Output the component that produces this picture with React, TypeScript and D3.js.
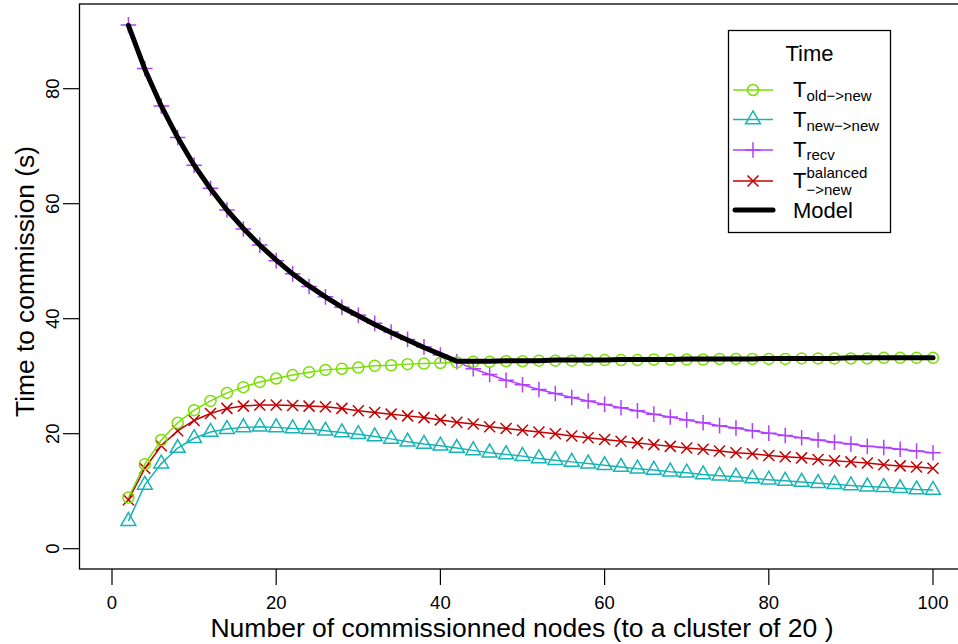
import React, { useRef, useEffect } from 'react';
import * as d3 from 'd3';

// commissioned nodes (x)
const nodes = [
  2, 4, 6, 8, 10, 12, 14, 16, 18, 20, 22, 24, 26, 28, 30, 32, 34, 36, 38, 40,
  42, 44, 46, 48, 50, 52, 54, 56, 58, 60, 62, 64, 66, 68, 70, 72, 74, 76, 78, 80,
  82, 84, 86, 88, 90, 92, 94, 96, 98, 100,
];

const oldToNew = [
  8.9, 14.7, 18.9, 21.9, 24.1, 25.7, 27.1, 28.1, 29.0, 29.6,
  30.2, 30.7, 31.1, 31.3, 31.5, 31.8, 31.9, 32.1, 32.2, 32.3,
  32.4, 32.5, 32.5, 32.6, 32.6, 32.7, 32.7, 32.7, 32.8, 32.8,
  32.8, 32.8, 32.9, 32.9, 32.9, 32.9, 33.0, 33.0, 33.0, 33.0,
  33.0, 33.1, 33.1, 33.1, 33.1, 33.1, 33.2, 33.2, 33.2, 33.2,
];

const newToNew = [
  4.8, 11.1, 14.8, 17.5, 19.2, 20.3, 20.8, 21.1, 21.2, 21.1,
  20.9, 20.8, 20.5, 20.2, 19.9, 19.5, 19.1, 18.6, 18.2, 17.9,
  17.5, 17.1, 16.7, 16.4, 16.1, 15.7, 15.4, 15.1, 14.8, 14.5,
  14.2, 13.9, 13.7, 13.4, 13.2, 12.9, 12.7, 12.5, 12.2, 12.0,
  11.8, 11.6, 11.4, 11.2, 11.0, 10.8, 10.7, 10.5, 10.3, 10.2,
];

const recv = [
  91.1, 83.5, 77.0, 71.5, 66.7, 62.7, 58.9, 55.6, 52.8, 50.1,
  47.8, 45.6, 43.8, 42.0, 40.6, 39.2, 37.7, 36.4, 35.1, 33.7,
  32.5, 31.3, 30.3, 29.3, 28.5, 27.7, 27.0, 26.3, 25.7, 25.1,
  24.5, 24.0, 23.4, 22.9, 22.4, 21.9, 21.4, 21.0, 20.5, 20.1,
  19.7, 19.3, 18.9, 18.5, 18.2, 17.8, 17.6, 17.3, 17.0, 16.7,
];

const balanced = [
  8.5, 14.0, 17.9, 20.5, 22.3, 23.5, 24.4, 24.8, 25.0, 25.0,
  24.9, 24.8, 24.7, 24.4, 24.0, 23.7, 23.4, 23.1, 22.8, 22.4,
  22.0, 21.7, 21.2, 20.9, 20.6, 20.3, 20.0, 19.6, 19.3, 19.0,
  18.7, 18.4, 18.1, 17.8, 17.5, 17.3, 17.0, 16.7, 16.5, 16.2,
  16.0, 15.8, 15.5, 15.3, 15.1, 14.9, 14.6, 14.4, 14.2, 14.0,
];

const model = [
  91.0, 83.4, 77.0, 71.5, 66.7, 62.6, 58.9, 55.7, 52.8, 50.2,
  47.8, 45.7, 43.8, 42.0, 40.5, 39.0, 37.6, 36.3, 35.0, 33.8,
  32.6, 32.6, 32.6, 32.7, 32.7, 32.7, 32.8, 32.8, 32.8, 32.8,
  32.9, 32.9, 32.9, 32.9, 33.0, 33.0, 33.0, 33.0, 33.0, 33.1,
  33.1, 33.1, 33.1, 33.1, 33.2, 33.2, 33.2, 33.2, 33.2, 33.2,
];

const xTicks = [0, 20, 40, 60, 80, 100];
const yTicks = [0, 20, 40, 60, 80];

const FONT = '"Liberation Sans", Arial, Helvetica, sans-serif';
const R = 5.5; // symbol radius

type Shape = 'circle' | 'triangle' | 'plus' | 'cross';

function drawSymbol(g: any, shape: Shape, x: number, y: number, color: string) {
  if (shape === 'circle') {
    g.append('circle').attr('cx', x).attr('cy', y).attr('r', R)
      .attr('fill', 'none').attr('stroke', color).attr('stroke-width', 1.5);
  } else if (shape === 'triangle') {
    const r = 1.555 * R, xc = 1.347 * R, yc = 0.778 * R;
    g.append('path')
      .attr('d', `M${x},${y - r}L${x + xc},${y + yc}L${x - xc},${y + yc}Z`)
      .attr('fill', 'none').attr('stroke', color).attr('stroke-width', 1.5);
  } else if (shape === 'plus') {
    const h = 1.414 * R;
    g.append('path')
      .attr('d', `M${x - h},${y}H${x + h}M${x},${y - h}V${y + h}`)
      .attr('stroke', color).attr('stroke-width', 1.5);
  } else {
    const h = R;
    g.append('path')
      .attr('d', `M${x - h},${y - h}L${x + h},${y + h}M${x - h},${y + h}L${x + h},${y - h}`)
      .attr('stroke', color).attr('stroke-width', 1.5);
  }
}

const App = () => {
  const ref = useRef<SVGSVGElement>(null);

  useEffect(() => {
    const svg = d3.select(ref.current);
    svg.selectAll('*').remove();

    const x = d3.scaleLinear().domain([0, 100]).range([112, 933]);
    const y = d3.scaleLinear().domain([0, 80]).range([548.7, 88.7]);

    // plot box (right edge falls outside the picture)
    svg.append('rect')
      .attr('x', 79.5).attr('y', 4).attr('width', 887).attr('height', 565)
      .attr('fill', 'none').attr('stroke', 'black').attr('stroke-width', 1.3);

    // y axis
    const ya = svg.append('g');
    yTicks.forEach(t => {
      ya.append('line').attr('x1', 63).attr('x2', 79.5)
        .attr('y1', y(t)).attr('y2', y(t)).attr('stroke', 'black').attr('stroke-width', 1.2);
      ya.append('text')
        .attr('transform', `translate(58.5,${y(t)}) rotate(-90)`)
        .attr('text-anchor', 'middle')
        .style('font-family', FONT).style('font-size', '18.5px')
        .text(t);
    });

    // x axis
    const xa = svg.append('g');
    xTicks.forEach(t => {
      xa.append('line').attr('x1', x(t)).attr('x2', x(t))
        .attr('y1', 569).attr('y2', 585).attr('stroke', 'black').attr('stroke-width', 1.2);
      xa.append('text')
        .attr('x', x(t)).attr('y', 608.5)
        .attr('text-anchor', 'middle')
        .style('font-family', FONT).style('font-size', '18.5px')
        .text(t);
    });

    svg.append('text')
      .attr('x', 522).attr('y', 637).attr('text-anchor', 'middle')
      .style('font-family', FONT).style('font-size', '26.5px')
      .text('Number of commissionned nodes (to a cluster of 20 )');

    svg.append('text')
      .attr('transform', `translate(34,281.5) rotate(-90)`)
      .attr('text-anchor', 'middle')
      .style('font-family', FONT).style('font-size', '26.3px')
      .text('Time to commission (s)');

    const line = d3.line<number>()
      .x((d, i) => x(nodes[i]))
      .y(d => y(d));

    const series: { values: number[]; color: string; shape: Shape }[] = [
      { values: recv, color: '#b040ff', shape: 'plus' },
      { values: newToNew, color: '#17b4b4', shape: 'triangle' },
      { values: balanced, color: '#c40000', shape: 'cross' },
      { values: oldToNew, color: '#78e000', shape: 'circle' },
    ];

    series.forEach(s => {
      const g = svg.append('g');
      g.append('path').datum(s.values).attr('d', line)
        .attr('fill', 'none').attr('stroke', s.color).attr('stroke-width', 1.5);
      s.values.forEach((v, i) => drawSymbol(g, s.shape, x(nodes[i]), y(v), s.color));
    });

    svg.append('path').datum(model).attr('d', line)
      .attr('fill', 'none').attr('stroke', 'black').attr('stroke-width', 5)
      .attr('stroke-linejoin', 'round').attr('stroke-linecap', 'round');

    // legend
    const lg = svg.append('g');
    lg.append('rect').attr('x', 728.5).attr('y', 30.5).attr('width', 162).attr('height', 202)
      .attr('fill', 'white').attr('stroke', 'black').attr('stroke-width', 1.3);
    lg.append('text').attr('x', 809.5).attr('y', 61).attr('text-anchor', 'middle')
      .style('font-family', FONT).style('font-size', '22px').text('Time');

    const rows = [
      { color: '#78e000', shape: 'circle' as Shape, sub: 'old−>new', sup: '', cy: 90, subDy: 4 },
      { color: '#17b4b4', shape: 'triangle' as Shape, sub: 'new−>new', sup: '', cy: 119.5, subDy: 4 },
      { color: '#b040ff', shape: 'plus' as Shape, sub: 'recv', sup: '', cy: 150, subDy: 3 },
      { color: '#c40000', shape: 'cross' as Shape, sub: '−>new', sup: 'balanced', cy: 181, subDy: 7 },
    ];
    rows.forEach(r => {
      lg.append('line').attr('x1', 733).attr('x2', 773).attr('y1', r.cy).attr('y2', r.cy)
        .attr('stroke', r.color).attr('stroke-width', 1.5);
      drawSymbol(lg, r.shape, 753, r.cy, r.color);
      const base = r.cy + 7;
      lg.append('text').attr('x', 793).attr('y', base)
        .style('font-family', FONT).style('font-size', '22px').text('T');
      lg.append('text').attr('x', 806.5).attr('y', base + r.subDy)
        .style('font-family', FONT).style('font-size', '15px').text(r.sub);
      if (r.sup) {
        lg.append('text').attr('x', 806.5).attr('y', base - 10)
          .style('font-family', FONT).style('font-size', '15px').text(r.sup);
      }
    });
    lg.append('line').attr('x1', 735).attr('x2', 773).attr('y1', 210).attr('y2', 210)
      .attr('stroke', 'black').attr('stroke-width', 5).attr('stroke-linecap', 'round');
    lg.append('text').attr('x', 793).attr('y', 217.5)
      .style('font-family', FONT).style('font-size', '22px').text('Model');
  }, []);

  return (
    <svg ref={ref} width={958} height={644}
      style={{ position: 'absolute', left: 0, top: 0, background: 'white' }} />
  );
};

export default App;
